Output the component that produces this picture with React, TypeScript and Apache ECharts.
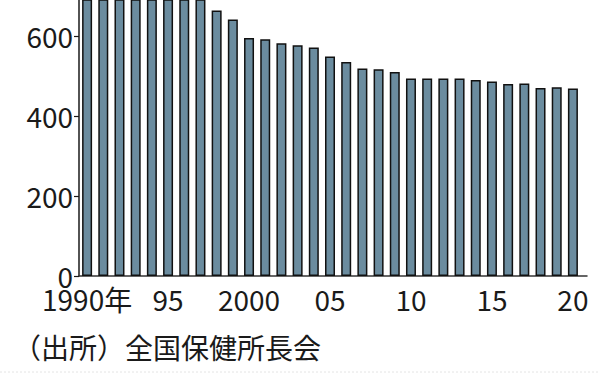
import React, { useEffect, useRef } from "react";
import * as echarts from "echarts";

const years = [
  1990, 1991, 1992, 1993, 1994, 1995, 1996, 1997, 1998, 1999,
  2000, 2001, 2002, 2003, 2004, 2005, 2006, 2007, 2008, 2009,
  2010, 2011, 2012, 2013, 2014, 2015, 2016, 2017, 2018, 2019, 2020,
];
const counts = [
  850, 852, 852, 848, 847, 845, 845, 706, 664, 641,
  595, 592, 582, 577, 571, 549, 535, 519, 517, 510,
  494, 494, 494, 494, 490, 486, 480, 481, 470, 472, 469,
];
const xTickYears = [1990, 1995, 2000, 2005, 2010, 2015, 2020];
const xTickLabels = ["1990年", "95", "2000", "05", "10", "15", "20"];
const yTicks = [0, 200, 400, 600];
const sourceText = "（出所）全国保健所長会";

const NUM_FONT = "'Liberation Sans Narrow', 'Noto Sans CJK JP', sans-serif";

export default function App() {
  const ref = useRef<HTMLDivElement>(null);
  useEffect(() => {
    const chart = echarts.init(ref.current!, null, { renderer: "svg" });
    chart.setOption({
      animation: false,
      backgroundColor: "#ffffff",
      grid: { left: 79, right: 13, top: 0, bottom: 99 },
      xAxis: {
        type: "value",
        min: 1989.5,
        max: 2020.87,
        axisLine: { show: true, onZero: false, lineStyle: { color: "#333333", width: 1.5 } },
        axisTick: { show: false },
        splitLine: { show: false },
        axisLabel: {
          customValues: xTickYears,
          formatter: (v: number) => {
            const i = xTickYears.indexOf(Math.round(v));
            return i >= 0 ? xTickLabels[i] : "";
          },
          fontFamily: NUM_FONT,
          fontSize: 28,
          color: "#1a1a1a",
          margin: 9,
        },
      },
      yAxis: {
        type: "value",
        min: 0,
        max: 690,
        axisLine: { show: true, lineStyle: { color: "#1a1a1a", width: 1.5 } },
        axisTick: {
          show: true,
          customValues: yTicks,
          length: 5,
          lineStyle: { color: "#1a1a1a", width: 1.2 },
        },
        splitLine: { show: false },
        axisLabel: {
          customValues: yTicks,
          fontFamily: NUM_FONT,
          fontSize: 28,
          color: "#1a1a1a",
          margin: 6,
          padding: [0, 0, 5, 0],
        },
      },
      series: [
        {
          type: "bar",
          data: years.map((y, i) => [y, counts[i]]),
          barWidth: 10,
          clip: true,
          itemStyle: { color: "#6b8c9f", borderColor: "#111111", borderWidth: 1.5 },
        },
      ],
      graphic: [
        {
          type: "text",
          x: 13,
          y: 347,
          style: {
            text: sourceText,
            fontSize: 28,
            fontFamily: "'Noto Sans CJK JP', sans-serif",
            fill: "#1a1a1a",
            textVerticalAlign: "middle",
            verticalAlign: "middle",
          },
        },
        {
          type: "line",
          shape: { x1: 0, y1: 372, x2: 600, y2: 372 },
          style: { stroke: "#e4e4e4", lineWidth: 1, lineDash: [2, 2] },
        },
      ],
    });
    return () => chart.dispose();
  }, []);
  return (
    <div
      ref={ref}
      style={{ position: "fixed", left: 0, top: 0, width: 600, height: 375 }}
    />
  );
}
